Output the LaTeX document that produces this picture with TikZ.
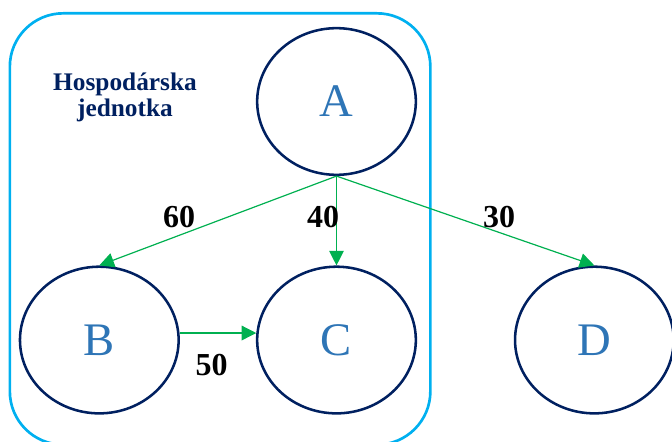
\documentclass[tikz,border=0pt]{standalone}
\usepackage{fontspec}
\setmainfont{Liberation Serif}
\usetikzlibrary{arrows.meta, positioning, shapes.geometric}
\definecolor{mynavy}{RGB}{0,32,96}
\definecolor{myblue}{RGB}{46,117,182}
\definecolor{mycyan}{RGB}{0,176,240}
\definecolor{mygreen}{RGB}{0,176,80}
\tikzset{
  entity/.style={ellipse, draw=mynavy, line width=1.9pt, inner sep=0pt,
    minimum width=119pt, minimum height=110pt, text=myblue,
    font=\fontsize{35}{40}\selectfont},
  unitframe/.style={rectangle, draw=mycyan, line width=2pt,
    rounded corners=40pt, minimum width=315.4pt, minimum height=323.5pt},
  unitlabel/.style={align=center, text=mynavy,
    font=\fontsize{19}{19.5}\selectfont\bfseries},
  weight/.style={font=\fontsize{24}{28}\selectfont\bfseries, text=black,
    inner sep=0pt},
  flow/.style={-{Triangle[length=11pt, width=11pt]}, line width=0.9pt,
    color=mygreen}
}
\begin{document}
\begin{tikzpicture}[x=0.75pt, y=-0.75pt]
  \useasboundingbox (0,0) rectangle (672,442);

  % Frame of the unit
  \node[unitframe] (unit) at (220.1,229) {};
  \node[unitlabel] (title) at (125,97) {Hospodárska\\jednotka};

  % Entities
  \node[entity] (A) at (336.5,101.5) {A};
  \node[entity, below=67pt of A] (C) {C};
  \node[entity, left=57pt of C] (B) {B};
  \node[entity, right=72.5pt of C] (D) {D};

  % Flows
  \draw[flow] (A.south) -- (B.north);
  \draw[flow] (A.south) -- (C.north);
  \draw[flow] (A.south) -- (D.north);
  \draw[flow] (B.5) -- (C.175);

  % Weights
  \node[weight] (wAB) at (179,217.5) {60};
  \node[weight] (wAC) at (323,217.5) {40};
  \node[weight] (wAD) at (499,217.5) {30};
  \node[weight] (wBC) at (211.5,365.5) {50};
\end{tikzpicture}
\end{document}
